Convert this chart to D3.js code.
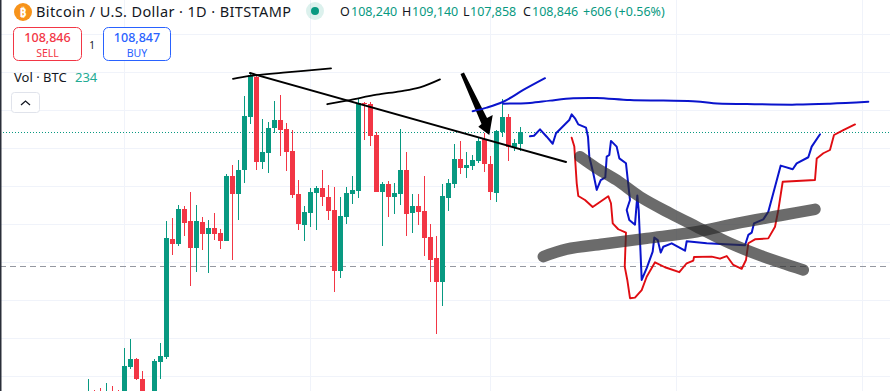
<!DOCTYPE html>
<html>
<head>
<meta charset="utf-8">
<script src="https://cdn.jsdelivr.net/npm/d3@7"></script>
<style>
html, body { margin: 0; padding: 0; background: #fff; overflow: hidden; }
svg { display: block; }
text { font-family: "Noto Sans", sans-serif; }
</style>
</head>
<body>
<div id="chart"></div>
<script>
// Daily candles, first bar is the one cut off at the bottom left
var opens = [94240,95030,95030,94240,94850,94940,94590,96500,96920,95870,94770,94410,96770,97030,103240,102970,104820,104180,102760,104130,103500,103820,103550,103130,106550,105610,106870,109660,111780,107290,107760,109080,109500,109030,107870,105610,103970,104610,105660,105920,105450,104760,101550,104390,105610,105760,110390,110340,108710,105710,106130,105450,105610,106870,104610,104970,104710,103340,102240,100970,105390,106130,107450,106970,107080,107340,108500,107180,105660,108870,109660,108080,108240];
var highs = [95870,95290,95400,95660,95500,95290,97480,97980,96960,96290,95120,96920,97750,104180,104340,105030,104970,105710,105030,104400,104240,104600,103760,106660,107130,107390,110760,111950,111870,109550,109390,110500,110810,109340,108970,106340,104970,105920,106030,106870,106080,105970,105450,105970,106550,110640,110450,110450,108870,106240,106290,106180,109010,107810,105610,105610,106550,104030,103400,106130,106400,108240,108390,107810,107660,108550,108800,107600,108970,110600,109820,108500,109140];
var lows = [93710,94410,94240,94060,94240,94060,94410,96400,95820,94590,94060,94240,95870,96940,102400,102870,103400,100760,101500,102660,101450,103180,102710,103130,102130,104240,106180,109290,106870,106920,106710,108810,107600,106810,105390,103710,103130,103870,103710,104970,104240,100450,101180,104030,105080,105390,108450,108130,105710,102870,104390,104550,105030,103400,103550,103970,102340,100970,98240,99710,104710,105920,106660,106450,106870,107240,106760,105290,105180,108620,107340,107870,107858];
var closes = [94770,94590,94410,94850,94410,94240,96550,96920,95870,94770,94410,96820,97080,103290,102970,104820,104080,102760,104180,103500,103820,103500,103130,106550,105610,106870,109710,111870,107290,107810,109080,109500,108970,107810,105550,104030,104660,105710,105920,105450,104710,101550,104450,105660,105810,110380,110340,108660,105710,106130,105450,105660,106870,104550,104970,104660,103290,102130,100970,105500,106180,107450,106970,107130,107390,108390,107180,105710,108920,109660,108080,108290,108846];

var priceTicks = [114000,112000,110000,108000,106000,104000,102000,100000,98000,96000];
var monthBars = [6,37,67,98,129];
var lastPrice = 108846;
var levelPrice = 101800;

// Hand drawn marks, [bar, price]
var trendLine = [[26.92,111970],[79.58,107290]];
var topStroke = [[24.08,111670],[26.92,111820],[32.42,111990],[40.42,112220]];
var secondStroke = [[39.8,110330],[43.58,110550],[48.03,110830],[51.92,111010],[55.25,111220],[58.58,111640]];
var arrowShape = [[62,111920],[62.58,112000],[66.42,109610],[67.37,109760],[66.8,108710],[64.97,109150],[65.5,109290]];
var blueShort = [[64.03,109960],[66.37,110150],[69.13,110460],[72.47,111080],[76.08,111700]];
var blueLong = [[69.13,110360],[73.58,110400],[76.92,110520],[80.8,110640],[84.7,110660],[90.25,110550],[95.8,110520],[101.37,110480],[104.13,110380],[109.7,110340],[118.03,110310],[123.58,110360],[129.97,110460]];
var bluePath = [[73.58,108640],[74.25,108670],[75.25,109010],[76.37,108620],[77.37,108250],[77.92,108800],[79.13,109180],[80.13,109500],[80.53,109800],[81.08,109590],[81.63,109270],[82.92,109100],[83.25,108620],[83.47,107570],[84.13,106700],[84.7,105820],[85.37,106340],[86.13,106480],[86.37,107570],[86.8,107660],[87.08,108400],[88.03,108100],[88.47,107480],[89.58,107220],[89.97,106080],[90.25,105290],[89.7,104760],[90.13,104240],[91.08,103990],[91.47,105520],[91.7,104760],[92.2,101080],[93.03,101700],[94.03,102570],[94.3,103310],[94.87,103180],[95.37,102520],[95.8,102830],[97.2,103010],[99.42,102620],[99.7,103120],[103.03,103010],[109.42,102910],[109.97,103450],[110.53,103570],[110.92,104060],[112.47,104270],[113.3,104670],[114.42,105990],[115.37,107100],[117.37,106910],[118.03,107220],[119.97,107540],[120.53,108100],[121.92,108750]];
var redPath = [[80.53,108570],[80.97,108100],[81.37,106170],[81.63,105500],[82.75,105290],[84.03,104920],[86.63,105490],[87.08,105120],[87.37,104060],[88.3,103750],[89.58,103570],[89.37,101780],[89.8,101080],[90.25,100120],[91.08,100150],[92.2,100550],[93.03,101250],[94.42,102010],[96.08,101750],[98.47,101490],[99.7,101960],[100.8,102100],[100.92,102290],[103.87,102310],[105.25,102200],[106.37,102340],[107.47,101870],[108.87,101670],[109.58,102130],[109.97,103010],[111.08,103220],[113.3,103270],[114.42,103880],[114.97,104760],[115.7,106250],[121.08,106340],[121.37,107480],[122.47,107750],[123.58,107920],[124.25,108710],[125.8,108970],[127.75,109270]];
var grayDown = [[81.92,107570],[84.7,106960],[88.03,106340],[91.92,105460],[96.92,104590],[101.37,103880],[106.92,103010],[112.47,102310],[119.13,101610]];
var grayUp = [[75.8,102310],[79.7,102700],[85.8,102970],[93.03,103270],[101.37,103620],[108.03,104060],[115.8,104500],[121.08,104800]];

var width = 890, height = 391;
var green = "#089981", red = "#f23645", blue = "#2962ff", ink = "#131722";

var x = d3.scaleLinear().domain([0, 1]).range([88.5, 94.5]);
var y = d3.scaleLinear().domain([110000, 108000]).range([110.5, 148.5]);

var svg = d3.select("#chart").append("svg")
    .attr("width", width)
    .attr("height", height);

// Grid
svg.selectAll(".hgrid").data(priceTicks).enter().append("line")
    .attr("class", "hgrid")
    .attr("x1", 0).attr("x2", width)
    .attr("y1", function(d) { return Math.floor(y(d)) + 0.5; })
    .attr("y2", function(d) { return Math.floor(y(d)) + 0.5; })
    .attr("stroke", "#f0f3fa");

svg.selectAll(".vgrid").data(monthBars).enter().append("line")
    .attr("class", "vgrid")
    .attr("x1", function(d) { return x(d); })
    .attr("x2", function(d) { return x(d); })
    .attr("y1", 0).attr("y2", height)
    .attr("stroke", "#f0f3fa");

// Price lines
svg.append("line")
    .attr("x1", 0).attr("x2", width)
    .attr("y1", Math.floor(y(lastPrice)) + 0.5).attr("y2", Math.floor(y(lastPrice)) + 0.5)
    .attr("stroke", green)
    .attr("stroke-dasharray", "1 2");

svg.append("line")
    .attr("x1", 0).attr("x2", width)
    .attr("y1", Math.floor(y(levelPrice)) + 0.5).attr("y2", Math.floor(y(levelPrice)) + 0.5)
    .attr("stroke", "#9598a1")
    .attr("stroke-dasharray", "6 4");

// Candles
var bars = svg.selectAll(".bar").data(d3.range(opens.length)).enter().append("g")
    .attr("class", "bar")
    .attr("shape-rendering", "crispEdges")
    .attr("fill", function(i) { return closes[i] >= opens[i] ? green : red; });

bars.append("rect")
    .attr("x", function(i) { return x(i) - 0.5; })
    .attr("width", 1)
    .attr("y", function(i) { return y(highs[i]); })
    .attr("height", function(i) { return y(lows[i]) - y(highs[i]); });

bars.append("rect")
    .attr("x", function(i) { return x(i) - 2.5; })
    .attr("width", 5)
    .attr("y", function(i) { return y(Math.max(opens[i], closes[i])); })
    .attr("height", function(i) { return Math.max(1, Math.abs(y(opens[i]) - y(closes[i]))); });

// Drawings on top of the chart
var pen = d3.line()
    .x(function(d) { return x(d[0]); })
    .y(function(d) { return y(d[1]); });

var soft = d3.line()
    .x(function(d) { return x(d[0]); })
    .y(function(d) { return y(d[1]); })
    .curve(d3.curveCatmullRom);

function stroke(points, color, w, gen) {
    return svg.append("path")
        .attr("d", (gen || pen)(points))
        .attr("fill", "none")
        .attr("stroke", color)
        .attr("stroke-width", w)
        .attr("stroke-linecap", "round")
        .attr("stroke-linejoin", "round");
}

stroke(trendLine, "#000", 2);
stroke(topStroke, "#000", 1.8, soft);
stroke(secondStroke, "#000", 1.8, soft);
svg.append("path").attr("d", pen(arrowShape) + "Z").attr("fill", "#000");

stroke(blueShort, "#0a14cc", 2, soft);
stroke(blueLong, "#0a14cc", 2, soft);
stroke(bluePath, "#0a14cc", 2);
stroke(redPath, "#e00d12", 1.9);
stroke(grayDown, "#2c2c2c", 11.5, soft).attr("stroke-opacity", 0.7);
stroke(grayUp, "#2c2c2c", 11.5, soft).attr("stroke-opacity", 0.7);

// Left edge of the screenshot
svg.append("rect").attr("x", 0).attr("y", 0).attr("width", 1.5).attr("height", height).attr("fill", "#2a2e39");

// Header
svg.append("circle").attr("cx", 23).attr("cy", 12).attr("r", 9).attr("fill", "#f7931a");
svg.append("text").attr("x", 23).attr("y", 16.5).attr("text-anchor", "middle")
    .attr("font-size", 12).attr("font-weight", 700).attr("fill", "#fff").text("₿");

function label(px, py, str, size, color, anchor) {
    return svg.append("text")
        .attr("x", px).attr("y", py)
        .attr("font-size", size)
        .attr("fill", color)
        .attr("text-anchor", anchor || "start")
        .text(str);
}

label(36, 17, "Bitcoin / U.S. Dollar · 1D · BITSTAMP", 14.5, ink).attr("textLength", 255);

svg.append("circle").attr("cx", 315).attr("cy", 11).attr("r", 9).attr("fill", green).attr("fill-opacity", 0.14);
svg.append("circle").attr("cx", 315).attr("cy", 11).attr("r", 4).attr("fill", green);

label(340, 16, "O", 12.5, ink);
label(351, 16, "108,240", 12.5, green);
label(402, 16, "H", 12.5, ink);
label(412, 16, "109,140", 12.5, green);
label(463, 16, "L", 12.5, ink);
label(470, 16, "107,858", 12.5, green);
label(523, 16, "C", 12.5, ink);
label(532, 16, "108,846", 12.5, green);
label(583, 16, "+606 (+0.56%)", 12.5, green);

// Buy and sell boxes
svg.append("rect").attr("x", 13.5).attr("y", 27.5).attr("width", 68).attr("height", 33).attr("rx", 5)
    .attr("fill", "#fff").attr("stroke", red);
label(47.5, 41.5, "108,846", 12.5, red, "middle").attr("font-weight", 500);
label(47.5, 56.5, "SELL", 10.5, red, "middle");

label(92, 49, "1", 10, ink, "middle");

svg.append("rect").attr("x", 103.5).attr("y", 27.5).attr("width", 67).attr("height", 33).attr("rx", 5)
    .attr("fill", "#fff").attr("stroke", blue);
label(137, 41.5, "108,847", 12.5, blue, "middle").attr("font-weight", 500);
label(137, 56.5, "BUY", 10.5, blue, "middle");

// Volume legend
label(14, 82, "Vol · BTC", 13, ink);
label(75, 82, "234", 13, "#22ab94");

svg.append("rect").attr("x", 11.5).attr("y", 92.5).attr("width", 28).attr("height", 20).attr("rx", 3)
    .attr("fill", "#fff").attr("stroke", "#e0e3eb");
svg.append("path").attr("d", d3.line()([[21, 105], [25.5, 101], [30, 105]]))
    .attr("fill", "none").attr("stroke", ink).attr("stroke-width", 1.3);
</script>
</body>
</html>
